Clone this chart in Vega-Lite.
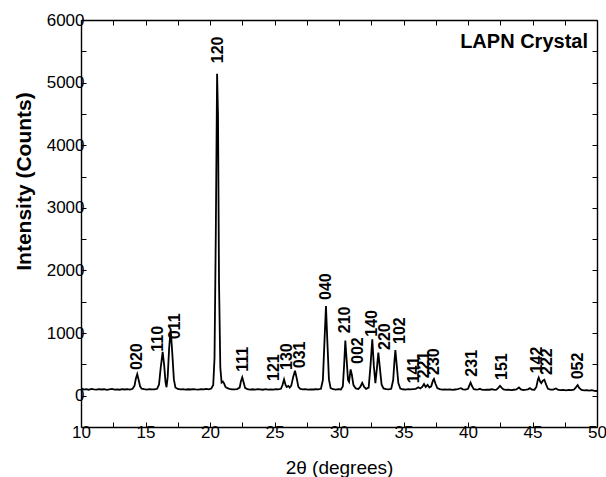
{
  "$schema": "https://vega.github.io/schema/vega-lite/v6.json",
  "width": 516,
  "height": 407,
  "autosize": {"type": "none"},
  "padding": {"left": 81, "top": 20, "right": 9, "bottom": 50},
  "background": "white",
  "config": {
    "view": {"stroke": null},
    "font": "Liberation Sans",
    "axis": {
      "grid": false,
      "domainColor": "black",
      "domainWidth": 1.4,
      "tickColor": "black",
      "tickWidth": 1,
      "tickSize": -5,
      "labelColor": "black",
      "titleColor": "black",
      "labelFont": "Liberation Sans",
      "titleFont": "Liberation Sans",
      "labelFlush": false,
      "labelOverlap": false
    }
  },
  "datasets": {
    "pattern": [
      {"x": 10.0, "y": 105}, {"x": 10.1, "y": 112}, {"x": 10.2, "y": 98}, {"x": 10.4, "y": 104}, {"x": 10.6, "y": 95},
      {"x": 10.8, "y": 108}, {"x": 11.0, "y": 100}, {"x": 11.2, "y": 96}, {"x": 11.4, "y": 106}, {"x": 11.6, "y": 99},
      {"x": 11.8, "y": 103}, {"x": 12.0, "y": 94}, {"x": 12.2, "y": 102}, {"x": 12.4, "y": 108}, {"x": 12.6, "y": 97},
      {"x": 12.8, "y": 101}, {"x": 13.0, "y": 95}, {"x": 13.2, "y": 104}, {"x": 13.4, "y": 99}, {"x": 13.6, "y": 106},
      {"x": 13.8, "y": 98}, {"x": 14.0, "y": 110}, {"x": 14.15, "y": 160}, {"x": 14.25, "y": 270}, {"x": 14.36, "y": 345},
      {"x": 14.47, "y": 250}, {"x": 14.58, "y": 150}, {"x": 14.7, "y": 112}, {"x": 14.9, "y": 104}, {"x": 15.1, "y": 98},
      {"x": 15.3, "y": 106}, {"x": 15.5, "y": 100}, {"x": 15.7, "y": 103}, {"x": 15.9, "y": 110}, {"x": 16.05, "y": 180},
      {"x": 16.18, "y": 450}, {"x": 16.33, "y": 700}, {"x": 16.45, "y": 480}, {"x": 16.55, "y": 220}, {"x": 16.63, "y": 135},
      {"x": 16.72, "y": 300}, {"x": 16.83, "y": 750}, {"x": 16.95, "y": 1060}, {"x": 17.07, "y": 700}, {"x": 17.2, "y": 260},
      {"x": 17.32, "y": 130}, {"x": 17.5, "y": 108}, {"x": 17.7, "y": 100}, {"x": 17.9, "y": 104}, {"x": 18.1, "y": 97},
      {"x": 18.3, "y": 103}, {"x": 18.5, "y": 99}, {"x": 18.7, "y": 106}, {"x": 18.9, "y": 101}, {"x": 19.1, "y": 97},
      {"x": 19.3, "y": 105}, {"x": 19.5, "y": 100}, {"x": 19.7, "y": 108}, {"x": 19.9, "y": 102}, {"x": 20.1, "y": 115},
      {"x": 20.25, "y": 170}, {"x": 20.35, "y": 600}, {"x": 20.45, "y": 2600}, {"x": 20.55, "y": 5140}, {"x": 20.62, "y": 4500},
      {"x": 20.7, "y": 1800}, {"x": 20.8, "y": 450}, {"x": 20.9, "y": 210}, {"x": 21.0, "y": 225}, {"x": 21.08, "y": 200},
      {"x": 21.2, "y": 140}, {"x": 21.35, "y": 120}, {"x": 21.5, "y": 108}, {"x": 21.7, "y": 102}, {"x": 21.9, "y": 100},
      {"x": 22.1, "y": 106}, {"x": 22.3, "y": 130}, {"x": 22.4, "y": 230}, {"x": 22.5, "y": 292}, {"x": 22.6, "y": 220},
      {"x": 22.72, "y": 125}, {"x": 22.9, "y": 104}, {"x": 23.1, "y": 98}, {"x": 23.3, "y": 103}, {"x": 23.5, "y": 97},
      {"x": 23.7, "y": 105}, {"x": 23.9, "y": 100}, {"x": 24.1, "y": 95}, {"x": 24.3, "y": 104}, {"x": 24.5, "y": 98},
      {"x": 24.7, "y": 102}, {"x": 24.9, "y": 97}, {"x": 25.1, "y": 105}, {"x": 25.3, "y": 100}, {"x": 25.5, "y": 110},
      {"x": 25.62, "y": 170}, {"x": 25.74, "y": 260}, {"x": 25.86, "y": 170}, {"x": 25.95, "y": 140}, {"x": 26.07, "y": 155},
      {"x": 26.18, "y": 130}, {"x": 26.3, "y": 160}, {"x": 26.45, "y": 300}, {"x": 26.59, "y": 400}, {"x": 26.72, "y": 280},
      {"x": 26.85, "y": 140}, {"x": 27.0, "y": 108}, {"x": 27.2, "y": 100}, {"x": 27.4, "y": 104}, {"x": 27.6, "y": 97},
      {"x": 27.8, "y": 102}, {"x": 28.0, "y": 99}, {"x": 28.2, "y": 103}, {"x": 28.4, "y": 100}, {"x": 28.6, "y": 110},
      {"x": 28.75, "y": 250}, {"x": 28.88, "y": 900}, {"x": 28.99, "y": 1430}, {"x": 29.1, "y": 850}, {"x": 29.22, "y": 260},
      {"x": 29.35, "y": 120}, {"x": 29.55, "y": 103}, {"x": 29.75, "y": 98}, {"x": 29.95, "y": 104}, {"x": 30.15, "y": 100},
      {"x": 30.3, "y": 150}, {"x": 30.4, "y": 500}, {"x": 30.49, "y": 880}, {"x": 30.6, "y": 550}, {"x": 30.7, "y": 250},
      {"x": 30.78, "y": 220}, {"x": 30.9, "y": 420}, {"x": 31.0, "y": 330}, {"x": 31.12, "y": 170}, {"x": 31.3, "y": 115},
      {"x": 31.5, "y": 105}, {"x": 31.65, "y": 140}, {"x": 31.8, "y": 205}, {"x": 31.95, "y": 140}, {"x": 32.1, "y": 110},
      {"x": 32.3, "y": 130}, {"x": 32.45, "y": 500}, {"x": 32.58, "y": 900}, {"x": 32.7, "y": 480}, {"x": 32.82, "y": 200},
      {"x": 32.93, "y": 420}, {"x": 33.05, "y": 690}, {"x": 33.18, "y": 420}, {"x": 33.3, "y": 180}, {"x": 33.45, "y": 115},
      {"x": 33.65, "y": 104}, {"x": 33.85, "y": 100}, {"x": 34.05, "y": 110}, {"x": 34.2, "y": 250}, {"x": 34.3, "y": 560},
      {"x": 34.37, "y": 730}, {"x": 34.47, "y": 500}, {"x": 34.6, "y": 200}, {"x": 34.75, "y": 115}, {"x": 34.95, "y": 103},
      {"x": 35.15, "y": 98}, {"x": 35.35, "y": 104}, {"x": 35.55, "y": 100}, {"x": 35.75, "y": 106}, {"x": 35.95, "y": 110},
      {"x": 36.15, "y": 135}, {"x": 36.3, "y": 115}, {"x": 36.45, "y": 140}, {"x": 36.59, "y": 187}, {"x": 36.72, "y": 140},
      {"x": 36.87, "y": 172}, {"x": 37.0, "y": 130}, {"x": 37.15, "y": 150}, {"x": 37.28, "y": 240}, {"x": 37.36, "y": 268},
      {"x": 37.48, "y": 190}, {"x": 37.62, "y": 120}, {"x": 37.8, "y": 104}, {"x": 38.0, "y": 97}, {"x": 38.2, "y": 102},
      {"x": 38.4, "y": 96}, {"x": 38.6, "y": 100}, {"x": 38.8, "y": 94}, {"x": 39.0, "y": 99}, {"x": 39.2, "y": 104},
      {"x": 39.35, "y": 115}, {"x": 39.46, "y": 120}, {"x": 39.6, "y": 102}, {"x": 39.8, "y": 98}, {"x": 40.0, "y": 110},
      {"x": 40.1, "y": 160}, {"x": 40.2, "y": 210}, {"x": 40.32, "y": 150}, {"x": 40.45, "y": 105}, {"x": 40.65, "y": 96},
      {"x": 40.8, "y": 100}, {"x": 40.93, "y": 110}, {"x": 41.05, "y": 96}, {"x": 41.25, "y": 92}, {"x": 41.45, "y": 98},
      {"x": 41.65, "y": 95}, {"x": 41.85, "y": 103}, {"x": 42.05, "y": 92}, {"x": 42.2, "y": 97}, {"x": 42.35, "y": 125},
      {"x": 42.48, "y": 158}, {"x": 42.6, "y": 128}, {"x": 42.75, "y": 100}, {"x": 42.95, "y": 92}, {"x": 43.15, "y": 96},
      {"x": 43.35, "y": 90}, {"x": 43.55, "y": 95}, {"x": 43.75, "y": 100}, {"x": 43.95, "y": 132}, {"x": 44.1, "y": 100},
      {"x": 44.3, "y": 90}, {"x": 44.5, "y": 96}, {"x": 44.65, "y": 102}, {"x": 44.8, "y": 120}, {"x": 44.95, "y": 97},
      {"x": 45.15, "y": 95}, {"x": 45.3, "y": 140}, {"x": 45.42, "y": 260}, {"x": 45.48, "y": 290}, {"x": 45.58, "y": 230},
      {"x": 45.68, "y": 200}, {"x": 45.8, "y": 240}, {"x": 45.92, "y": 255}, {"x": 46.05, "y": 180}, {"x": 46.2, "y": 110},
      {"x": 46.4, "y": 96}, {"x": 46.6, "y": 98}, {"x": 46.82, "y": 115}, {"x": 47.0, "y": 92}, {"x": 47.2, "y": 88},
      {"x": 47.4, "y": 94}, {"x": 47.6, "y": 86}, {"x": 47.8, "y": 92}, {"x": 48.0, "y": 88}, {"x": 48.2, "y": 95},
      {"x": 48.35, "y": 130}, {"x": 48.5, "y": 170}, {"x": 48.62, "y": 125}, {"x": 48.8, "y": 92}, {"x": 49.0, "y": 85},
      {"x": 49.2, "y": 90}, {"x": 49.4, "y": 82}, {"x": 49.6, "y": 88}, {"x": 49.8, "y": 78}, {"x": 50.0, "y": 75}
    ],
    "peaks": [
      {"hkl": "020", "x": 14.32, "y": 411},
      {"hkl": "110", "x": 15.99, "y": 703},
      {"hkl": "011", "x": 17.29, "y": 901},
      {"hkl": "120", "x": 20.64, "y": 5310},
      {"hkl": "111", "x": 22.58, "y": 383},
      {"hkl": "121", "x": 24.98, "y": 235},
      {"hkl": "130", "x": 25.95, "y": 411},
      {"hkl": "031", "x": 26.98, "y": 438},
      {"hkl": "040", "x": 28.99, "y": 1529},
      {"hkl": "210", "x": 30.45, "y": 997},
      {"hkl": "002", "x": 31.5, "y": 506},
      {"hkl": "140", "x": 32.58, "y": 942},
      {"hkl": "220", "x": 33.57, "y": 730},
      {"hkl": "102", "x": 34.73, "y": 826},
      {"hkl": "141", "x": 35.84, "y": 198},
      {"hkl": "221", "x": 36.59, "y": 278},
      {"hkl": "230", "x": 37.39, "y": 331},
      {"hkl": "231", "x": 40.33, "y": 304},
      {"hkl": "151", "x": 42.61, "y": 251},
      {"hkl": "142", "x": 45.33, "y": 358},
      {"hkl": "222", "x": 46.1, "y": 331},
      {"hkl": "052", "x": 48.55, "y": 262}
    ],
    "note": [
      {"label": "LAPN Crystal", "x": 49.3, "y": 5655}
    ]
  },
  "resolve": {"axis": {"x": "independent", "y": "independent"}},
  "layer": [
    {
      "data": {"name": "pattern"},
      "mark": {"type": "line", "color": "black", "strokeWidth": 1.8, "clip": true},
      "encoding": {
        "x": {
          "field": "x", "type": "quantitative",
          "scale": {"domain": [10, 50], "nice": false, "zero": false},
          "axis": {
            "orient": "bottom",
            "values": [10, 12.5, 15, 17.5, 20, 22.5, 25, 27.5, 30, 32.5, 35, 37.5, 40, 42.5, 45, 47.5, 50],
            "labelExpr": "datum.value % 5 === 0 ? datum.label : ''",
            "labelFontSize": 17,
            "labelPadding": 2,
            "title": "2θ (degrees)",
            "titleFontSize": 19,
            "titleFontWeight": "normal",
            "titleY": 40,
            "titleBaseline": "middle"
          }
        },
        "y": {
          "field": "y", "type": "quantitative",
          "scale": {"domain": [-500, 6000], "nice": false, "zero": false},
          "axis": {
            "orient": "left",
            "values": [0, 500, 1000, 1500, 2000, 2500, 3000, 3500, 4000, 4500, 5000, 5500, 6000],
            "format": "d",
            "labelExpr": "datum.value % 1000 === 0 ? datum.label : ''",
            "labelFontSize": 17,
            "labelPadding": 2,
            "title": "Intensity (Counts)",
            "titleFontSize": 21,
            "titleFontWeight": "bold",
            "titleX": -57,
            "titleY": 161,
            "titleBaseline": "middle"
          }
        }
      }
    },
    {
      "data": {"name": "peaks"},
      "mark": {"type": "text", "angle": 270, "align": "left", "baseline": "middle", "fontSize": 16, "fontWeight": "bold", "color": "black", "font": "Liberation Sans"},
      "encoding": {
        "x": {
          "field": "x", "type": "quantitative",
          "axis": {
            "orient": "top",
            "values": [10, 12.5, 15, 17.5, 20, 22.5, 25, 27.5, 30, 32.5, 35, 37.5, 40, 42.5, 45, 47.5, 50],
            "labels": false,
            "title": null
          }
        },
        "y": {
          "field": "y", "type": "quantitative",
          "axis": {
            "orient": "right",
            "values": [0, 500, 1000, 1500, 2000, 2500, 3000, 3500, 4000, 4500, 5000, 5500, 6000],
            "labels": false,
            "title": null
          }
        },
        "text": {"field": "hkl", "type": "nominal"}
      }
    },
    {
      "data": {"name": "note"},
      "mark": {"type": "text", "align": "right", "baseline": "middle", "fontSize": 20, "fontWeight": "bold", "color": "black", "font": "Liberation Sans"},
      "encoding": {
        "x": {"field": "x", "type": "quantitative", "axis": null},
        "y": {"field": "y", "type": "quantitative", "axis": null},
        "text": {"field": "label", "type": "nominal"}
      }
    }
  ]
}
